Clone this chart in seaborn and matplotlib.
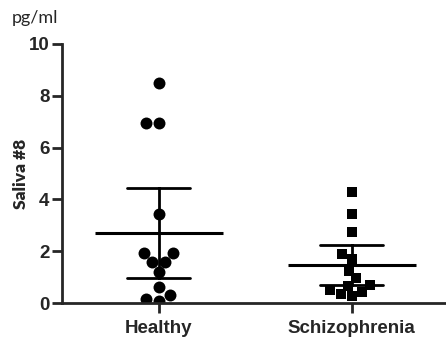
import numpy as np
import pandas as pd
import matplotlib.pyplot as plt
import seaborn as sns

groups = ["Healthy", "Schizophrenia"]
healthy = [8.48, 6.94, 6.94, 3.44, 1.94, 1.94, 1.57, 1.57, 1.18, 0.61, 0.31, 0.17, 0.09]
schizo = [4.30, 3.42, 2.75, 1.88, 1.70, 1.24, 0.95, 0.69, 0.67, 0.50, 0.41, 0.34, 0.28]
yticks = [0, 2, 4, 6, 8, 10]

df = pd.DataFrame({
    "group": ["Healthy"] * len(healthy) + ["Schizophrenia"] * len(schizo),
    "value": healthy + schizo,
})

T95 = 2.1788  # t critical, df = 12


def ci95(x):
    m = np.mean(x)
    h = T95 * np.std(x, ddof=1) / np.sqrt(len(x))
    return m - h, m + h


sns.set_style("ticks")
fig = plt.figure(figsize=(4.46, 3.42), dpi=100)
ax = fig.add_axes([62 / 446, 39 / 342, 386 / 446, 259 / 342])

sns.swarmplot(data=df[df.group == "Healthy"], x="group", y="value", order=groups,
              color="black", marker="o", size=8.6, ax=ax, zorder=2)
sns.swarmplot(data=df[df.group == "Schizophrenia"], x="group", y="value", order=groups,
              color="black", marker="s", size=7.6, ax=ax, zorder=2)
sns.pointplot(data=df, x="group", y="value", order=groups, errorbar=ci95,
              capsize=0.33, color="black", linestyle="none", marker="_",
              markersize=92, markeredgewidth=2.2, err_kws={"linewidth": 2},
              ax=ax, zorder=3)

ax.set_xlim(-0.5, 1.5)
ax.set_ylim(0, 10)
ax.set_yticks(yticks)
ax.set_xlabel("")
sns.despine(ax=ax)
for s in ["left", "bottom"]:
    ax.spines[s].set_linewidth(2)
ax.tick_params(width=2, length=7, pad=2)
for t in ax.get_yticklabels():
    t.set_fontfamily("Liberation Sans")
    t.set_fontweight("bold")
    t.set_fontsize(13.5)
for t in ax.get_xticklabels():
    t.set_fontfamily("Liberation Sans")
    t.set_fontweight("bold")
    t.set_fontsize(13.5)
ax.tick_params(axis="x", pad=5)
ax.set_ylabel("Saliva #8", family="Lato", fontweight="heavy", fontsize=12.5)
ax.yaxis.set_label_coords(-(62 - 29) / 386, 0.5)

fig.text(12 / 446, 1 - 18 / 342, "pg/ml", family="Lato", fontsize=13, va="center", ha="left")

fig.savefig("out.png", dpi=100)
